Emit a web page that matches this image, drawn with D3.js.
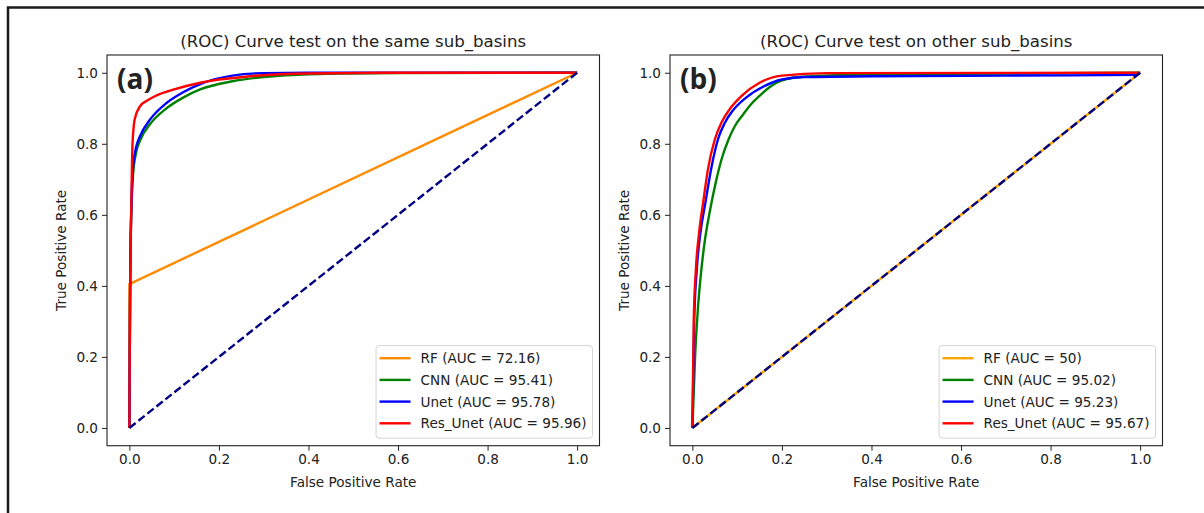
<!DOCTYPE html>
<html lang="en">
<head>
  <meta charset="UTF-8">
  <title>ROC curves</title>
  <script src="https://cdn.jsdelivr.net/npm/d3@7"></script>
  <style>
    body { margin: 0; background: #fff; }
    text { font-family: "DejaVu Sans", sans-serif; fill: #222; }
  </style>
</head>
<body>
  <div id="wrapper"></div>
  <script>
    // ticks shared by both panels
    const ticks = [0, 0.2, 0.4, 0.6, 0.8, 1.0];

    // panel (a): same sub_basins, [fpr, tpr]
    const rfA = [[0, 0], [0, 0.405], [1, 1]];
    const cnnA = [[0, 0], [0.002, 0.45], [0.005, 0.63], [0.008, 0.71], [0.015, 0.775], [0.024, 0.81], [0.046, 0.855], [0.083, 0.9], [0.12, 0.93], [0.158, 0.953], [0.23, 0.976], [0.3, 0.988], [0.4, 0.996], [0.6, 0.999], [1, 1]];
    const unetA = [[0, 0], [0.002, 0.45], [0.005, 0.65], [0.008, 0.73], [0.015, 0.79], [0.024, 0.822], [0.046, 0.868], [0.083, 0.915], [0.12, 0.945], [0.158, 0.968], [0.23, 0.992], [0.3, 0.999], [0.4, 1], [1, 1]];
    const resUnetA = [[0, 0], [0.001, 0.3], [0.004, 0.6], [0.007, 0.8], [0.012, 0.87], [0.024, 0.906], [0.04, 0.922], [0.057, 0.934], [0.1, 0.953], [0.158, 0.972], [0.27, 0.99], [0.4, 0.998], [0.6, 1], [1, 1]];

    // panel (b): other sub_basins
    const rfB = [[0, 0], [1, 1]];
    const cnnB = [[0, 0], [0.006, 0.2], [0.012, 0.33], [0.018, 0.42], [0.027, 0.52], [0.039, 0.61], [0.052, 0.69], [0.066, 0.76], [0.08, 0.81], [0.095, 0.85], [0.113, 0.882], [0.13, 0.91], [0.15, 0.935], [0.17, 0.957], [0.188, 0.972], [0.21, 0.982], [0.25, 0.989], [0.35, 0.994], [0.6, 0.997], [1, 1]];
    const unetB = [[0, 0], [0.004, 0.3], [0.01, 0.45], [0.018, 0.55], [0.029, 0.634], [0.042, 0.73], [0.057, 0.812], [0.072, 0.858], [0.09, 0.893], [0.12, 0.93], [0.16, 0.962], [0.2, 0.981], [0.25, 0.988], [0.4, 0.99], [0.7, 0.992], [0.99, 0.994], [1, 1]];
    const resUnetB = [[0, 0], [0.003, 0.3], [0.008, 0.45], [0.015, 0.55], [0.024, 0.634], [0.035, 0.73], [0.05, 0.812], [0.065, 0.86], [0.083, 0.897], [0.11, 0.935], [0.15, 0.972], [0.2, 0.992], [0.3, 0.999], [1, 1]];

    const chanceLine = [[0, 0], [1, 1]];

    const labelsA = ["RF (AUC = 72.16)", "CNN (AUC = 95.41)", "Unet (AUC = 95.78)", "Res_Unet (AUC = 95.96)"];
    const labelsB = ["RF (AUC = 50)", "CNN (AUC = 95.02)", "Unet (AUC = 95.23)", "Res_Unet (AUC = 95.67)"];

    const width = 1204;
    const height = 513;
    const fontSize = "13.6px";

    const svg = d3.select("#wrapper")
      .append("svg")
      .attr("width", width)
      .attr("height", height);

    // outer frame (only top and left edges show)
    svg.append("path")
      .attr("d", `M8,${height} L8,7.5 L${width},7.5`)
      .attr("fill", "none")
      .attr("stroke", "#1a1a1a")
      .attr("stroke-width", 2.5);

    function drawPanel(opts) {
      const left = opts.left, right = opts.right, top = 55, bottom = 445.7;

      const xScale = d3.scaleLinear().domain([-0.05, 1.05]).range([left, right]);
      const yScale = d3.scaleLinear().domain([-0.05, 1.05]).range([bottom, top]);

      const g = svg.append("g");

      // title
      g.append("text")
        .attr("x", (left + right) / 2)
        .attr("y", 47)
        .attr("text-anchor", "middle")
        .style("font-size", "16.6px")
        .text(opts.title);

      const smooth = d3.line()
        .x(d => xScale(d[0]))
        .y(d => yScale(d[1]))
        .curve(d3.curveMonotoneX);
      const straight = d3.line()
        .x(d => xScale(d[0]))
        .y(d => yScale(d[1]));

      const clip = "clip-" + opts.key;
      g.append("clipPath").attr("id", clip)
        .append("rect")
        .attr("x", left).attr("y", top)
        .attr("width", right - left).attr("height", bottom - top);

      const plot = g.append("g").attr("clip-path", `url(#${clip})`);

      opts.series.forEach(s => {
        plot.append("path")
          .attr("d", s.linear ? straight(s.data) : smooth(s.data))
          .attr("fill", "none")
          .attr("stroke", s.color)
          .attr("stroke-width", 2.4)
          .attr("stroke-linejoin", "round");
      });

      plot.append("path")
        .attr("d", straight(chanceLine))
        .attr("fill", "none")
        .attr("stroke", "navy")
        .attr("stroke-width", 2.4)
        .attr("stroke-dasharray", "8,3.5");

      // axes
      const xAxis = g.append("g")
        .attr("transform", `translate(0,${bottom})`)
        .call(d3.axisBottom(xScale).tickValues(ticks).tickFormat(d3.format(".1f")).tickSize(5).tickPadding(4));
      const yAxis = g.append("g")
        .attr("transform", `translate(${left},0)`)
        .call(d3.axisLeft(yScale).tickValues(ticks).tickFormat(d3.format(".1f")).tickSize(5).tickPadding(4));

      [xAxis, yAxis].forEach(a => {
        a.select(".domain").remove();
        a.selectAll("line").attr("stroke", "#222");
        a.selectAll("text")
          .style("font-family", "DejaVu Sans, sans-serif")
          .style("font-size", fontSize)
          .attr("fill", "#222");
      });

      g.append("rect")
        .attr("x", left).attr("y", top)
        .attr("width", right - left).attr("height", bottom - top)
        .attr("fill", "none")
        .attr("stroke", "#222")
        .attr("stroke-width", 1.1);

      // axis labels
      g.append("text")
        .attr("x", (left + right) / 2)
        .attr("y", 487)
        .attr("text-anchor", "middle")
        .style("font-size", fontSize)
        .text("False Positive Rate");

      g.append("text")
        .attr("transform", `translate(${left - 41},${(top + bottom) / 2}) rotate(-90)`)
        .attr("text-anchor", "middle")
        .style("font-size", fontSize)
        .text("True Positive Rate");

      // panel letter
      g.append("text")
        .attr("x", opts.letterX)
        .attr("y", 89)
        .style("font-family", "'Open Sans', sans-serif")
        .style("font-weight", "bold")
        .style("font-size", "28px")
        .attr("fill", "#111")
        .text(opts.letter);

      // legend
      const legend = g.append("g");
      const box = legend.append("rect")
        .attr("fill", "white")
        .attr("fill-opacity", 0.8)
        .attr("stroke", "#d4d4d4")
        .attr("stroke-width", 1)
        .attr("rx", 3);
      const rows = [12.6, 34.3, 56, 77.7];
      let maxW = 0;
      const boxTop = bottom - 7.5 - 92.6;
      const texts = opts.series.map((s, i) => {
        const t = legend.append("text")
          .attr("y", boxTop + rows[i] + 5)
          .style("font-size", fontSize)
          .text(opts.labels[i]);
        maxW = Math.max(maxW, t.node().getComputedTextLength());
        return t;
      });
      const boxW = 44.5 + maxW + 6;
      const boxLeft = right - 7 - boxW;
      box.attr("x", boxLeft).attr("y", boxTop).attr("width", boxW).attr("height", 92.6);
      opts.series.forEach((s, i) => {
        legend.append("line")
          .attr("x1", boxLeft + 3.5).attr("x2", boxLeft + 34.5)
          .attr("y1", boxTop + rows[i]).attr("y2", boxTop + rows[i])
          .attr("stroke", s.color)
          .attr("stroke-width", 2.4);
        texts[i].attr("x", boxLeft + 44.5);
      });
    }

    drawPanel({
      key: "a",
      left: 107, right: 599.5,
      title: "(ROC) Curve test on the same sub_basins",
      letter: "(a)", letterX: 117,
      labels: labelsA,
      series: [
        { data: rfA, color: "darkorange", linear: true },
        { data: cnnA, color: "green" },
        { data: unetA, color: "blue" },
        { data: resUnetA, color: "red" }
      ]
    });

    drawPanel({
      key: "b",
      left: 670, right: 1162.5,
      title: "(ROC) Curve test on other sub_basins",
      letter: "(b)", letterX: 680,
      labels: labelsB,
      series: [
        { data: rfB, color: "orange", linear: true },
        { data: cnnB, color: "green" },
        { data: unetB, color: "blue" },
        { data: resUnetB, color: "red" }
      ]
    });
  </script>
</body>
</html>
